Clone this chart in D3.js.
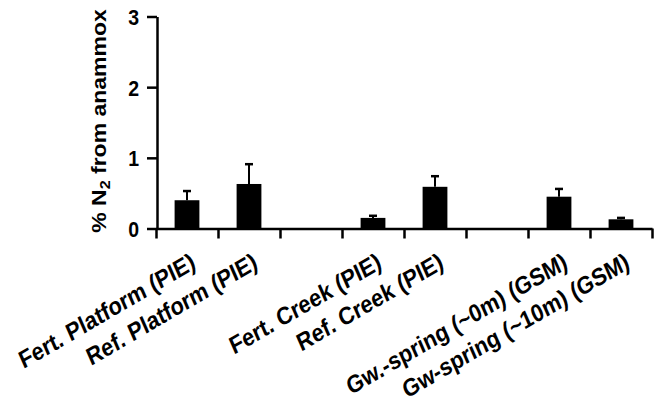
<!DOCTYPE html>
<html>
<head>
<meta charset="utf-8">
<script src="https://cdn.jsdelivr.net/npm/d3@7"></script>
<style>
  html, body { margin: 0; padding: 0; background: #fff; }
  svg { display: block; }
  text { font-family: "Liberation Sans", Arial, sans-serif; font-weight: bold; fill: #000; }
</style>
</head>
<body>
<svg id="chart" width="661" height="406"></svg>
<script>
// ---- data ----
const categories = ["Fert. Platform (PIE)", "Ref. Platform (PIE)", "", "Fert. Creek (PIE)", "Ref. Creek (PIE)", "", "Gw.-spring (~0m) (GSM)", "Gw-spring (~10m) (GSM)"];
const values = [0.40, 0.63, null, 0.15, 0.59, null, 0.45, 0.13];
const errors = [0.13, 0.28, null, 0.03, 0.15, null, 0.11, 0.02];
const yTicks = [0, 1, 2, 3];

const svg = d3.select("#chart");
const x0 = 156, x1 = 652, yBottom = 228.5, yTop = 16.5;
const stretch = 1.15; // text in the original is slightly taller than wide

const x = d3.scaleBand().domain(d3.range(categories.length)).range([x0, x1]).padding(0);
const xEdge = d3.scaleLinear().domain([0, categories.length]).range([x0, x1]);
const y = d3.scaleLinear().domain([0, 3]).range([yBottom, yTop]);

const data = categories.map((c, i) => ({ i, c, v: values[i], e: errors[i] }));
const barData = data.filter(d => d.v != null);
const bw = x.bandwidth() * 0.4;

// bars
svg.append("g").selectAll("rect").data(barData).join("rect")
  .attr("x", d => x(d.i) + x.bandwidth() / 2 - bw / 2)
  .attr("width", bw)
  .attr("y", d => y(d.v))
  .attr("height", d => y(0) - y(d.v))
  .attr("fill", "#000");

// error bars
const eg = svg.append("g").attr("stroke", "#000");
eg.selectAll("line.v").data(barData).join("line").attr("class", "v")
  .attr("x1", d => x(d.i) + x.bandwidth() / 2)
  .attr("x2", d => x(d.i) + x.bandwidth() / 2)
  .attr("y1", d => y(d.v))
  .attr("y2", d => y(d.v + d.e))
  .attr("stroke-width", 2);
eg.selectAll("line.c").data(barData).join("line").attr("class", "c")
  .attr("x1", d => x(d.i) + x.bandwidth() / 2 - 4)
  .attr("x2", d => x(d.i) + x.bandwidth() / 2 + 4)
  .attr("y1", d => y(d.v + d.e))
  .attr("y2", d => y(d.v + d.e))
  .attr("stroke-width", 2.5);

// y axis
const gy = svg.append("g").attr("transform", `translate(${x0 + 1},0)`)
  .call(d3.axisLeft(y).tickValues(yTicks).tickFormat(d3.format("d")).tickSize(10).tickSizeOuter(0).tickPadding(8));
gy.select(".domain").attr("stroke-width", 2.5);
gy.selectAll(".tick line").attr("stroke-width", 2.5);
gy.selectAll(".tick text").style("font-size", "19.5px").attr("dy", "0.36em")
  .attr("transform", `scale(1,${stretch})`);

// x axis (boundary ticks)
const gx = svg.append("g").attr("transform", `translate(0,${yBottom})`)
  .call(d3.axisBottom(xEdge).tickValues(d3.range(categories.length + 1)).tickFormat("").tickSize(10).tickSizeOuter(0));
gx.select(".domain").attr("stroke-width", 2.5);
gx.selectAll(".tick line").attr("stroke-width", 2.5);

// x labels
svg.append("g").selectAll("text").data(data.filter(d => d.c)).join("text")
  .attr("transform", d => `translate(${x(d.i) + x.bandwidth() / 2 + 10},${yBottom + 39}) scale(1,${stretch}) rotate(-27)`)
  .attr("text-anchor", "end")
  .style("font-size", "21.5px")
  .text(d => d.c);

// y title
const t = svg.append("text")
  .attr("transform", `translate(106,121) scale(1,${stretch}) rotate(-90)`)
  .attr("text-anchor", "middle")
  .style("font-size", "20px");
t.append("tspan").text("% N");
t.append("tspan").text("2").style("font-size", "14px").attr("dy", "3.5");
t.append("tspan").text(" from anammox").attr("dy", "-3.5");
</script>
</body>
</html>
